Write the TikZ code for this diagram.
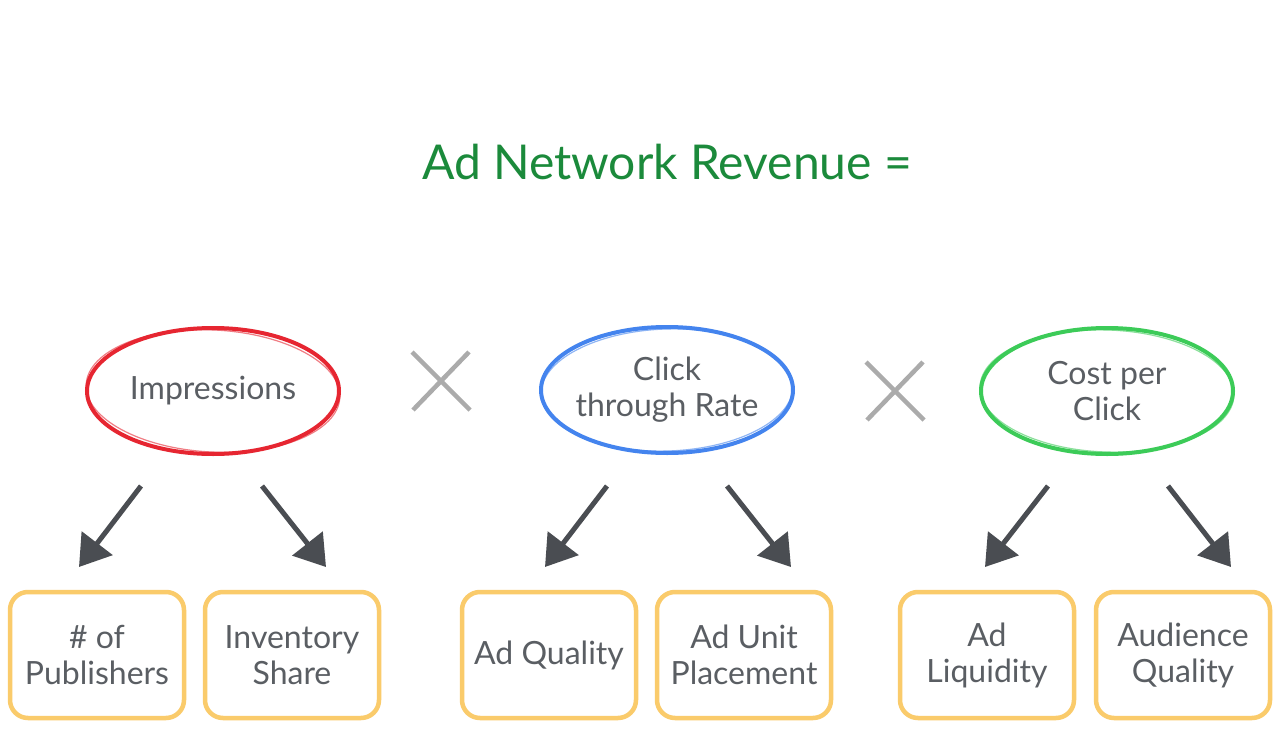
\documentclass[tikz,border=0pt]{standalone}
\usepackage{fontspec}
\setmainfont{Lato}
\usetikzlibrary{arrows.meta,shapes.geometric}
\definecolor{titlegreen}{HTML}{1B8A3B}
\definecolor{textgray}{HTML}{5A5E63}
\definecolor{impred}{HTML}{E62631}
\definecolor{ctrblue}{HTML}{4484EE}
\definecolor{cpcgreen}{HTML}{3CCB58}
\definecolor{boxyellow}{HTML}{FACB6B}
\definecolor{crossgray}{HTML}{ABABAB}
\definecolor{arrowgray}{HTML}{4A4D52}

\begin{document}
\begin{tikzpicture}[x=1pt,y=-1pt,
    every node/.style={font=\fontsize{32}{36}\selectfont, text=textgray, align=center},
    factor/.style={ellipse, draw, line width=4pt, inner xsep=-6pt, inner ysep=0pt,
                   minimum width=252pt, minimum height=126pt},
    driver/.style={rectangle, rounded corners=18pt, draw=boxyellow, line width=4.5pt,
                   minimum width=174pt, minimum height=126pt},
    times/.style={draw=crossgray, line width=4.5pt},
    pointer/.style={draw=arrowgray, line width=5pt, -{Triangle[length=30pt,width=38pt]}}]
    \useasboundingbox[fill=white] (0,0) rectangle (1280,749);
    % Title
    \node[text=titlegreen, font=\fontsize{48}{54}\selectfont] (title) at (667,162) {Ad Network Revenue =};
    % Factors
    \node[factor, draw=impred] (imp) at (213,391) {Impressions};
    \node[factor, draw=ctrblue] (ctr) at (667,390) {Click\\through Rate};
    \node[factor, draw=cpcgreen] (cpc) at (1107,391) {Cost per\\Click};
    \draw[impred, line width=1.2pt, opacity=.6, rotate around={-3:(imp)}] (imp) ellipse (127 and 61);
    \draw[ctrblue, line width=1.2pt, opacity=.6, rotate around={2:(ctr)}] (ctr) ellipse (126 and 61);
    \draw[cpcgreen, line width=1.2pt, opacity=.6, rotate around={-2:(cpc)}] (cpc) ellipse (127 and 61);
    % Multiplication signs
    \coordinate (x1a) at (412,352);
    \coordinate (x1b) at (470,410);
    \coordinate (x1c) at (469,352);
    \coordinate (x1d) at (413,410);
    \draw[times] (x1a) -- (x1b);
    \draw[times] (x1c) -- (x1d);
    \coordinate (x2a) at (866,362);
    \coordinate (x2b) at (924,420);
    \coordinate (x2c) at (923,362);
    \coordinate (x2d) at (867,420);
    \draw[times] (x2a) -- (x2b);
    \draw[times] (x2c) -- (x2d);
    % Drivers
    \node[driver] (pub) at (97,655) {\# of\\Publishers};
    \node[driver] (inv) at (292,655) {Inventory\\Share};
    \node[driver] (qual) at (549,655) {Ad Quality};
    \node[driver] (place) at (744,655) {Ad Unit\\Placement};
    \node[driver] (liq) at (987,655) {Ad\\Liquidity};
    \node[driver] (aud) at (1183,655) {Audience\\Quality};
    % Arrows
    \coordinate (a1) at (141,486);
    \coordinate (b1) at (79,567);
    \coordinate (a2) at (262,486);
    \coordinate (b2) at (326,567);
    \coordinate (a3) at (607,486);
    \coordinate (b3) at (545,567);
    \coordinate (a4) at (727,486);
    \coordinate (b4) at (791,567);
    \coordinate (a5) at (1048,486);
    \coordinate (b5) at (985,567);
    \coordinate (a6) at (1168,486);
    \coordinate (b6) at (1231,567);
    \draw[pointer] (a1) -- (b1);
    \draw[pointer] (a2) -- (b2);
    \draw[pointer] (a3) -- (b3);
    \draw[pointer] (a4) -- (b4);
    \draw[pointer] (a5) -- (b5);
    \draw[pointer] (a6) -- (b6);
\end{tikzpicture}
\end{document}
